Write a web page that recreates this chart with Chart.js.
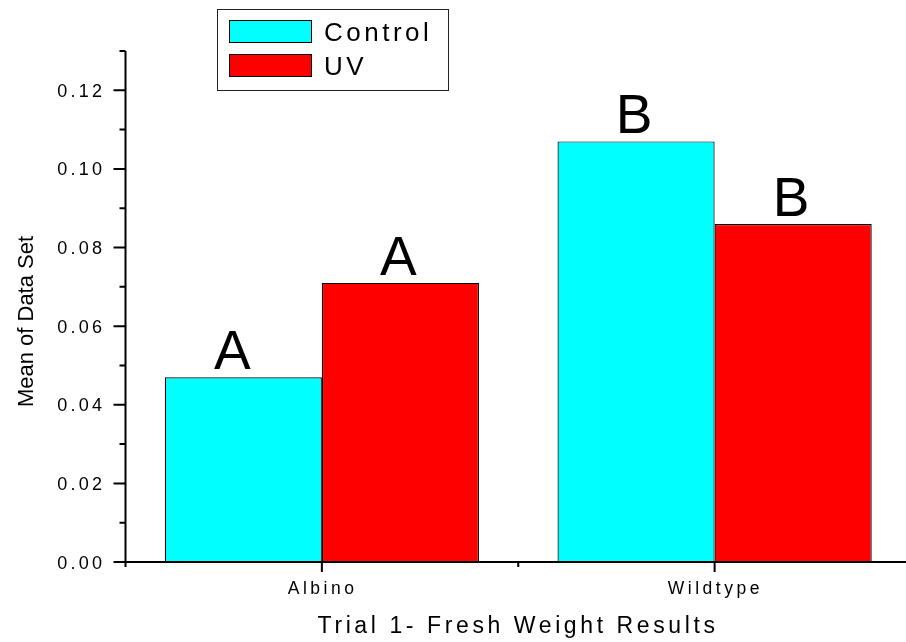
<!DOCTYPE html>
<html>
<head>
<meta charset="utf-8">
<script src="https://cdn.jsdelivr.net/npm/chart.js@4.4.1/dist/chart.umd.min.js"></script>
<style>
  html, body { margin: 0; padding: 0; overflow: hidden; background: #fff; }
  canvas { display: block; }
</style>
</head>
<body>
<canvas id="c" width="920" height="642"></canvas>
<script>
// Fresh weight means per genotype and treatment
const categories = ['Albino', 'Wildtype'];
const seriesNames = ['Control', 'UV'];
const controlMeans = [0.047, 0.107];
const uvMeans = [0.071, 0.086];
// Significance group letters shown above each bar
const controlLetters = ['A', 'B'];
const uvLetters = ['A', 'B'];
// Value axis ticks
const yMajorTicks = [0.00, 0.02, 0.04, 0.06, 0.08, 0.10, 0.12];
const yMinorTicks = [0.01, 0.03, 0.05, 0.07, 0.09, 0.11, 0.13];
const yMax = 0.13;
const xTitle = 'Trial 1- Fresh Weight Results';
const yTitle = 'Mean of Data Set';

const seriesColors = ['#00FFFF', '#FF0000'];
const FONT = '"Liberation Sans", Arial, Helvetica, sans-serif';

function spacedText(ctx, text, x, y, size, spacing, align) {
  ctx.save();
  ctx.font = size + 'px ' + FONT;
  ctx.letterSpacing = spacing + 'px';
  ctx.textAlign = align;
  ctx.textBaseline = 'alphabetic';
  let dx = 0;
  if (align === 'right') dx = spacing;
  else if (align === 'center') dx = spacing / 2;
  ctx.fillText(text, x + dx, y);
  ctx.restore();
}

const originAxes = {
  id: 'originAxes',
  afterDraw(chart) {
    const ctx = chart.ctx;
    const ca = chart.chartArea;
    const xs = chart.scales.x;
    const ys = chart.scales.y;
    ctx.save();
    ctx.fillStyle = '#000';
    ctx.strokeStyle = '#000';
    ctx.lineWidth = 2;

    // axis lines
    ctx.beginPath();
    ctx.moveTo(ca.left, ys.getPixelForValue(yMax));
    ctx.lineTo(ca.left, ca.bottom);
    ctx.moveTo(ca.left - 1, ca.bottom);
    ctx.lineTo(ca.right, ca.bottom);
    ctx.stroke();

    // y ticks
    ctx.beginPath();
    yMajorTicks.forEach(v => {
      const py = ys.getPixelForValue(v);
      ctx.moveTo(ca.left - 12, py);
      ctx.lineTo(ca.left, py);
    });
    yMinorTicks.forEach(v => {
      const py = ys.getPixelForValue(v);
      ctx.moveTo(ca.left - 6, py);
      ctx.lineTo(ca.left, py);
    });
    // x ticks: major at category centres, minor at category boundaries
    categories.forEach((c, i) => {
      const px = xs.getPixelForValue(i);
      ctx.moveTo(px, ca.bottom);
      ctx.lineTo(px, ca.bottom + 10);
    });
    for (let i = 0; i <= categories.length; i++) {
      const px = xs.getPixelForValue(i - 0.5);
      ctx.moveTo(px, ca.bottom);
      ctx.lineTo(px, ca.bottom + 5);
    }
    ctx.stroke();

    // y tick labels
    yMajorTicks.forEach(v => {
      const py = ys.getPixelForValue(v);
      spacedText(ctx, v.toFixed(2), ca.left - 23.5, py + 6.5, 18, 3.2, 'right');
    });
    // x tick labels
    categories.forEach((c, i) => {
      spacedText(ctx, c, xs.getPixelForValue(i) - 1, ca.bottom + 31.5, 17.5, 3.5, 'center');
    });
    // axis titles
    spacedText(ctx, xTitle, (ca.left + ca.right) / 2 - 2, ca.bottom + 70.5, 23, 3.6, 'center');
    ctx.save();
    ctx.translate(33, (ca.top + ca.bottom) / 2 + 15);
    ctx.rotate(-Math.PI / 2);
    ctx.font = '22px ' + FONT;
    ctx.textAlign = 'center';
    ctx.textBaseline = 'alphabetic';
    ctx.fillText(yTitle, 0, 0);
    ctx.restore();

    // group letters above bars
    const letterSets = [controlLetters, uvLetters];
    chart.data.datasets.forEach((ds, di) => {
      const meta = chart.getDatasetMeta(di);
      meta.data.forEach((bar, j) => {
        ctx.save();
        ctx.font = '55px ' + FONT;
        ctx.textAlign = 'center';
        ctx.textBaseline = 'alphabetic';
        ctx.fillText(letterSets[di][j], bar.x - (di === 0 && j === 0 ? 11 : 2), bar.y - 8);
        ctx.restore();
      });
    });

    // boxed legend
    ctx.lineWidth = 1;
    ctx.strokeStyle = '#222';
    ctx.strokeRect(217.5, 9.5, 231, 81);
    seriesNames.forEach((name, i) => {
      const top = 20 + i * 34;
      ctx.fillStyle = seriesColors[i];
      ctx.fillRect(229, top, 83, 23);
      ctx.strokeStyle = '#000';
      ctx.strokeRect(229.5, top + 0.5, 82, 22);
      ctx.fillStyle = '#000';
      spacedText(ctx, name, 324, top + 21, 26, 3.5, 'left');
    });
    ctx.restore();
  }
};

new Chart(document.getElementById('c'), {
  type: 'bar',
  data: {
    labels: categories,
    datasets: [
      {
        label: seriesNames[0],
        data: controlMeans,
        backgroundColor: seriesColors[0],
        borderColor: '#000',
        borderWidth: 1.2,
        barPercentage: 1.0,
        categoryPercentage: 0.8
      },
      {
        label: seriesNames[1],
        data: uvMeans,
        backgroundColor: seriesColors[1],
        borderColor: '#000',
        borderWidth: 1.2,
        barPercentage: 1.0,
        categoryPercentage: 0.8
      }
    ]
  },
  options: {
    responsive: false,
    animation: false,
    events: [],
    layout: { padding: { left: 125.5, right: 9, top: 51, bottom: 80 } },
    plugins: {
      legend: { display: false },
      tooltip: { enabled: false },
      title: { display: false }
    },
    scales: {
      x: { display: false, offset: true },
      y: { display: false, min: 0, max: yMax }
    }
  },
  plugins: [originAxes]
});
</script>
</body>
</html>
